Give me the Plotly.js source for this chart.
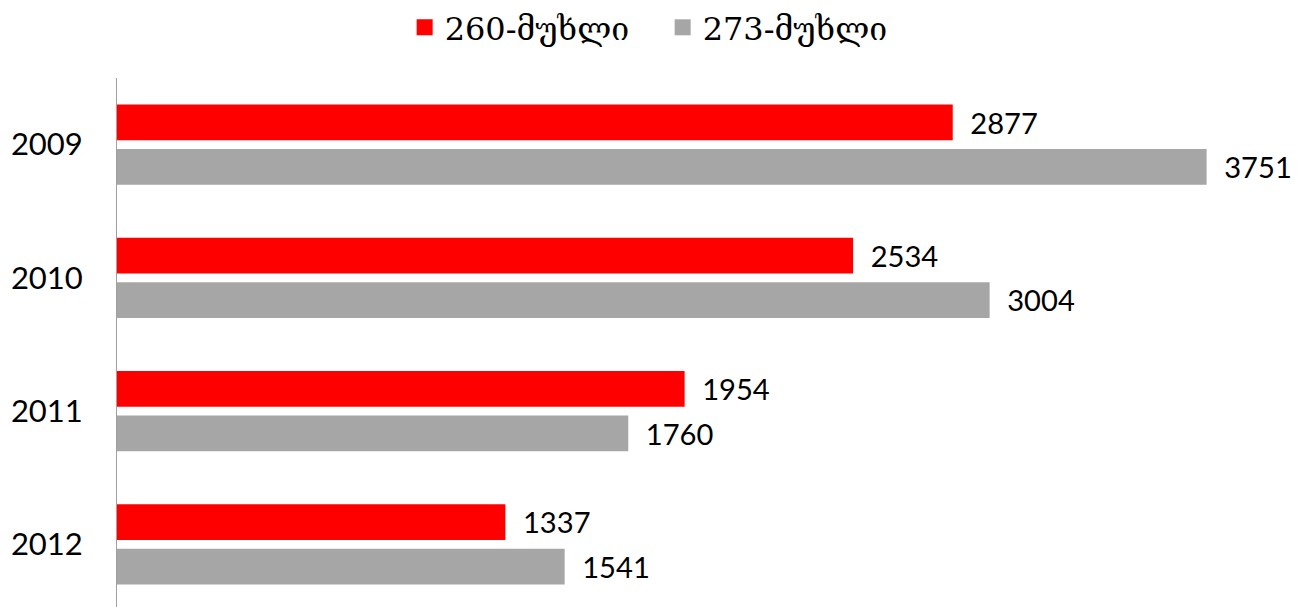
<!DOCTYPE html>
<html>
<head>
<meta charset="utf-8">
<script src="https://cdn.plot.ly/plotly-3.0.1.min.js"></script>
<style>html,body{margin:0;padding:0;background:#fff;}#chart{width:1307px;height:607px;}</style>
</head>
<body>
<div id="chart"></div>
<script>
const years = ["2009", "2010", "2011", "2012"];
const series260 = [2877, 2534, 1954, 1337];
const series273 = [3751, 3004, 1760, 1541];
const name260 = "260-მუხლი";
const name273 = "273-მუხლი";
const color260 = "#ff0000";
const color273 = "#a6a6a6";

const labelFont = {family: "Lato, 'Open Sans', sans-serif", size: 31, color: "#000"};
const pad = "\u2002";

const traces = [
  {type: "bar", orientation: "h", name: name260, y: years, x: series260, showlegend: false,
   marker: {color: color260}, text: series260.map(v => pad + v), textposition: "outside",
   textfont: labelFont, cliponaxis: false, hoverinfo: "x+y"},
  {type: "bar", orientation: "h", name: name273, y: years, x: series273, showlegend: false,
   marker: {color: color273}, text: series273.map(v => pad + v), textposition: "outside",
   textfont: labelFont, cliponaxis: false, hoverinfo: "x+y"},
  {type: "scatter", mode: "markers", name: name260, x: [null], y: [null],
   marker: {color: color260, symbol: "square", size: 19}, showlegend: true, hoverinfo: "skip"},
  {type: "scatter", mode: "markers", name: name273, x: [null], y: [null],
   marker: {color: color273, symbol: "square", size: 19}, showlegend: true, hoverinfo: "skip"}
];

const layout = {
  width: 1307, height: 607,
  margin: {l: 117, r: 17, t: 78, b: 0},
  paper_bgcolor: "#fff", plot_bgcolor: "#fff",
  barmode: "group", bargap: 0.33, bargroupgap: 0.2,
  showlegend: true,
  legend: {orientation: "h", x: 0.507, xref: "container", xanchor: "center", y: 1.0, yref: "container", yanchor: "top",
           font: {family: "'DejaVu Serif', serif", size: 32, color: "#000"}, traceorder: "normal",
           itemwidth: 30, itemsizing: "trace", entrywidth: 213, entrywidthmode: "pixels"},
  xaxis: {range: [0, 4038], visible: false, showgrid: false, zeroline: false},
  yaxis: {type: "category", autorange: false, range: [3.47, -0.5], showline: true, linecolor: "#a0a0a0", linewidth: 1,
          ticks: "", showgrid: false, zeroline: false, ticklabelstandoff: 27,
          tickfont: {family: "Lato, 'Open Sans', sans-serif", size: 31, color: "#000"}}
};

Plotly.newPlot("chart", traces, layout, {displayModeBar: false, staticPlot: true});
</script>
</body>
</html>
